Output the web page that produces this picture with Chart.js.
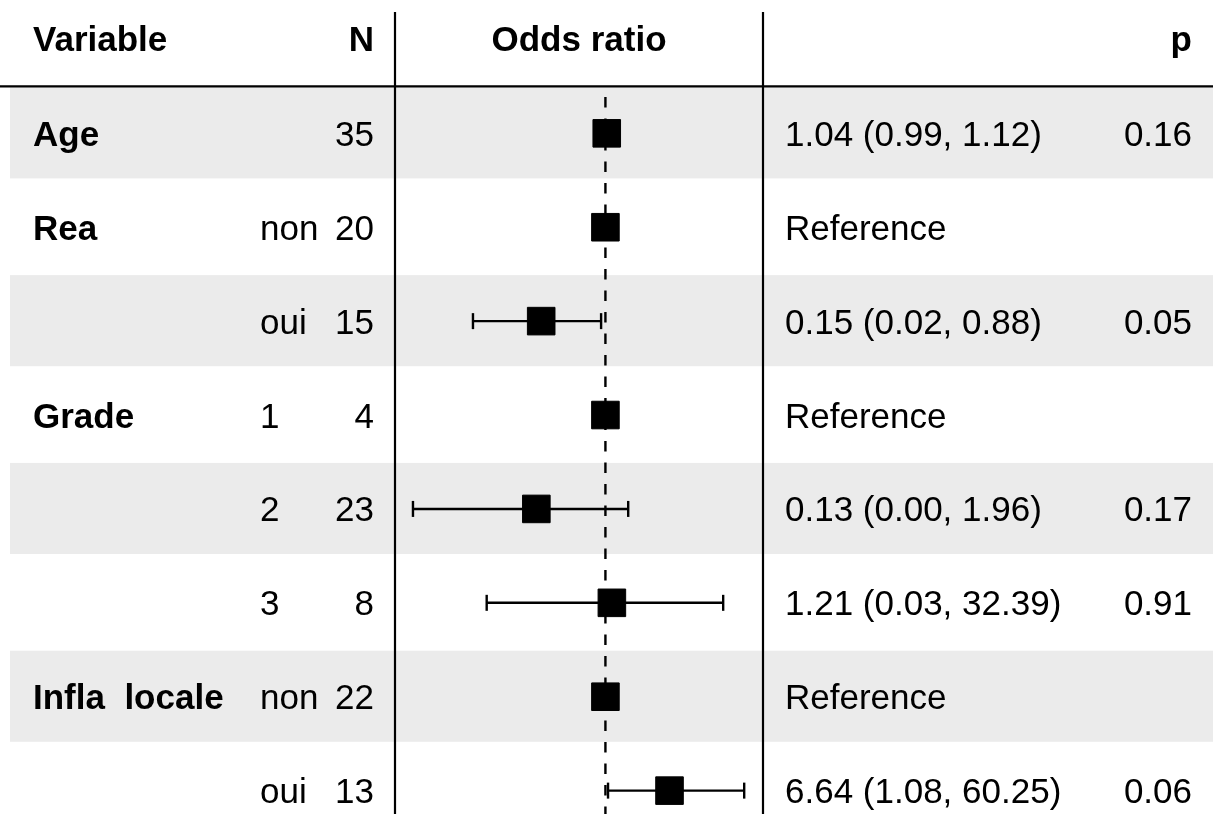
<!DOCTYPE html>
<html>
<head>
<meta charset="utf-8">
<script src="https://cdn.jsdelivr.net/npm/chart.js@4/dist/chart.umd.min.js"></script>
<style>
  html, body { margin: 0; padding: 0; background: #fff; overflow: hidden; }
  canvas { display: block; }
</style>
</head>
<body>
<canvas id="forest" width="1213" height="814"></canvas>
<script>
// forest plot data, one entry per row
const rowVariables = ["Age", "Rea", "", "Grade", "", "", "Infla  locale", ""];
const rowLevels = ["", "non", "oui", "1", "2", "3", "non", "oui"];
const rowN = [35, 20, 15, 4, 23, 8, 22, 13];
const oddsRatios = [1.04, 1, 0.15, 1, 0.13, 1.21, 1, 6.64];
const ciLower = [0.99, null, 0.02, null, 0.0034, 0.03, null, 1.08];
const ciUpper = [1.12, null, 0.88, null, 1.96, 32.39, null, 60.25];
const estimateLabels = [
  "1.04 (0.99, 1.12)", "Reference", "0.15 (0.02, 0.88)", "Reference",
  "0.13 (0.00, 1.96)", "1.21 (0.03, 32.39)", "Reference", "6.64 (1.08, 60.25)"
];
const pValues = ["0.16", "", "0.05", "", "0.17", "0.91", "", "0.06"];
const headers = ["Variable", "N", "Odds ratio", "p"];

const canvas = document.getElementById("forest");
const boldFont = "bold 35px 'Liberation Sans', Arial, sans-serif";
const plainFont = "35px 'Liberation Sans', Arial, sans-serif";

const squares = {
  data: oddsRatios.map((v, i) => ({ x: v, y: i })),
  pointStyle: "rect",
  pointRadius: 19.5,
  pointBackgroundColor: "#000",
  pointBorderColor: "#000",
  pointBorderWidth: 1,
  showLine: false,
};

const ciSets = [];
ciLower.forEach((lo, i) => {
  if (lo === null) return;
  ciSets.push({
    data: [{ x: lo, y: i }, { x: ciUpper[i], y: i }],
    showLine: true,
    borderColor: "#000",
    borderWidth: 2.4,
    pointStyle: "line",
    pointRotation: 90,
    pointRadius: 8,
    pointBorderColor: "#000",
    pointBorderWidth: 2.4,
  });
});

const tablePlugin = {
  id: "table",
  beforeDraw(chart) {
    const ctx = chart.ctx;
    const y = chart.scales.y;
    ctx.save();
    ctx.fillStyle = "#fff";
    ctx.fillRect(0, 0, chart.width, chart.height);
    ctx.fillStyle = "#ebebeb";
    rowN.forEach((n, i) => {
      if (i % 2 !== 0) return;
      const top = y.getPixelForValue(i - 0.49);
      const bottom = y.getPixelForValue(i + 0.48);
      ctx.fillRect(10, top, chart.width - 10, bottom - top);
    });
    ctx.restore();
  },
  beforeDatasetsDraw(chart) {
    const ctx = chart.ctx;
    const x1 = chart.scales.x.getPixelForValue(1);
    ctx.save();
    ctx.strokeStyle = "#000";
    ctx.lineWidth = 2.4;
    ctx.setLineDash([10.5, 11]);
    ctx.beginPath();
    ctx.moveTo(x1, 97);
    ctx.lineTo(x1, chart.height);
    ctx.stroke();
    ctx.restore();
  },
  afterDraw(chart) {
    const ctx = chart.ctx;
    const area = chart.chartArea;
    const y = chart.scales.y;
    ctx.save();
    ctx.strokeStyle = "#000";
    ctx.lineWidth = 2.2;
    ctx.beginPath();
    ctx.moveTo(0, 86.3);
    ctx.lineTo(chart.width, 86.3);
    ctx.moveTo(area.left, 12);
    ctx.lineTo(area.left, chart.height);
    ctx.moveTo(area.right, 12);
    ctx.lineTo(area.right, chart.height);
    ctx.stroke();

    ctx.fillStyle = "#000";
    ctx.textBaseline = "alphabetic";
    // header
    const hy = 50.5;
    ctx.font = boldFont;
    ctx.textAlign = "left";
    ctx.fillText(headers[0], 33, hy);
    ctx.textAlign = "right";
    ctx.fillText(headers[1], 374, hy);
    ctx.textAlign = "center";
    ctx.fillText(headers[2], (area.left + area.right) / 2, hy);
    ctx.textAlign = "right";
    ctx.fillText(headers[3], 1192, hy);

    // rows
    rowN.forEach((n, i) => {
      const by = y.getPixelForValue(i) + 12.5;
      ctx.font = boldFont;
      ctx.textAlign = "left";
      ctx.fillText(rowVariables[i], 33, by);
      ctx.font = plainFont;
      ctx.fillText(rowLevels[i], 260, by);
      ctx.fillText(estimateLabels[i], 785, by);
      ctx.textAlign = "right";
      ctx.fillText(String(n), 374, by);
      ctx.fillText(pValues[i], 1192, by);
    });
    ctx.restore();
  },
};

new Chart(canvas, {
  type: "scatter",
  data: { datasets: [squares, ...ciSets] },
  options: {
    responsive: false,
    animation: false,
    devicePixelRatio: 1,
    layout: {
      autoPadding: false,
      padding: { left: 395, right: 450, top: 0, bottom: 0 },
    },
    plugins: { legend: { display: false }, tooltip: { enabled: false } },
    scales: {
      x: {
        type: "logarithmic",
        min: 0.002,
        max: 105,
        display: false,
      },
      y: {
        type: "linear",
        reverse: true,
        min: -1.42,
        max: 7.249,
        display: false,
      },
    },
  },
  plugins: [tablePlugin],
});
</script>
</body>
</html>
